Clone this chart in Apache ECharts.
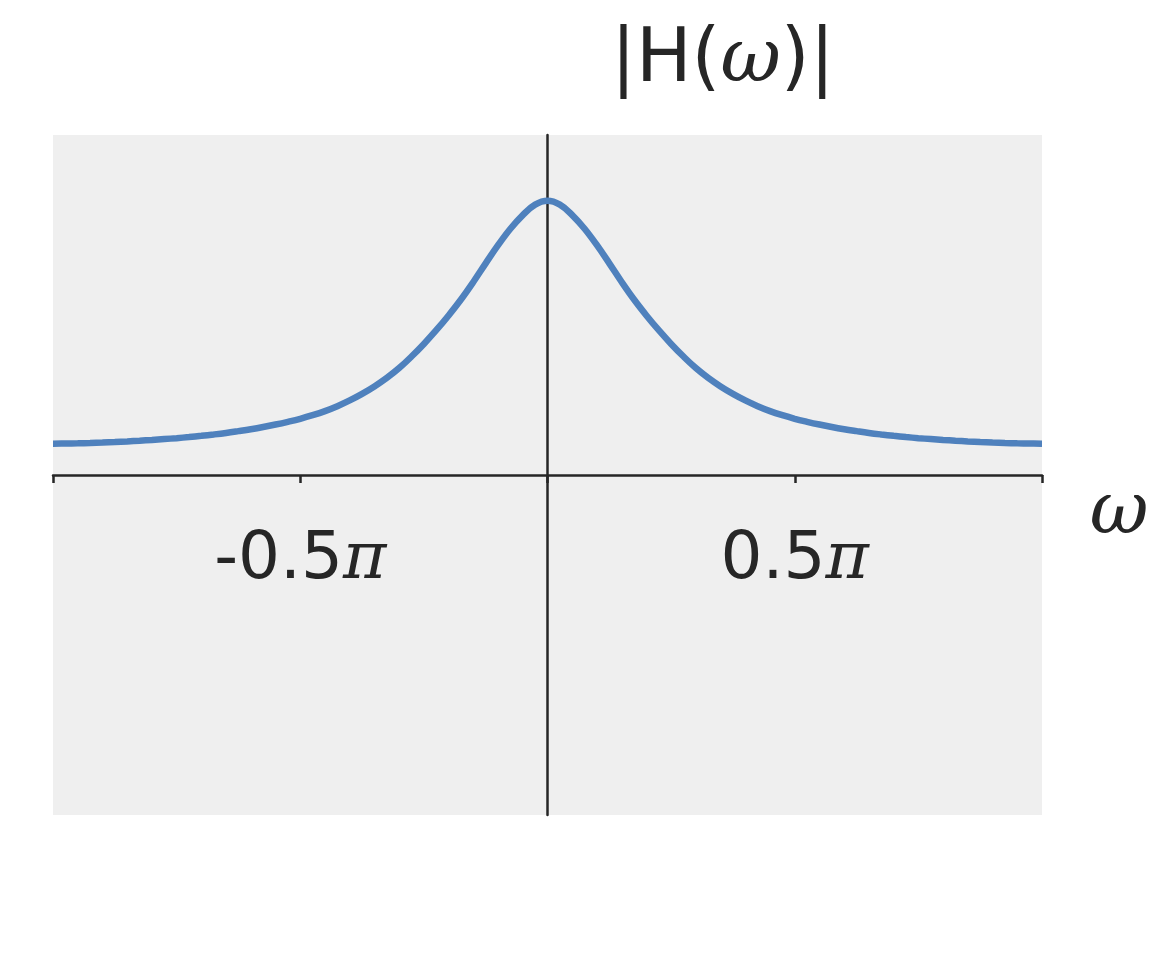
<!DOCTYPE html>
<html>
<head>
<meta charset="utf-8">
<script src="https://cdn.jsdelivr.net/npm/echarts@6/dist/echarts.min.js"></script>
<style>html,body{margin:0;padding:0;background:#fff}#c{width:1152px;height:960px}</style>
</head>
<body>
<div id="c"></div>
<script>
// omega in units of pi
const omegaPi = [-1.0,-0.975,-0.95,-0.925,-0.9,-0.875,-0.85,-0.825,-0.8,-0.775,-0.75,-0.725,-0.7,-0.675,-0.65,-0.625,-0.6,-0.575,-0.55,-0.525,-0.5,-0.475,-0.45,-0.425,-0.4,-0.375,-0.35,-0.325,-0.3,-0.275,-0.25,-0.225,-0.2,-0.175,-0.15,-0.125,-0.1,-0.075,-0.05,-0.025,
  0,0.025,0.05,0.075,0.1,0.125,0.15,0.175,0.2,0.225,0.25,0.275,0.3,0.325,0.35,0.375,0.4,0.425,0.45,0.475,0.5,0.525,0.55,0.575,0.6,0.625,0.65,0.675,0.7,0.725,0.75,0.775,0.8,0.825,0.85,0.875,0.9,0.925,0.95,0.975,1.0];
const magnitude = [0.572,0.574,0.578,0.584,0.592,0.602,0.613,0.625,0.639,0.655,0.672,0.692,0.714,0.739,0.767,0.80,0.835,0.875,0.92,0.97,1.025,1.09,1.165,1.255,1.36,1.48,1.615,1.77,1.95,2.16,2.39,2.64,2.91,3.20,3.52,3.86,4.19,4.49,4.74,4.93,
  5.0,4.93,4.74,4.49,4.19,3.86,3.52,3.20,2.91,2.64,2.39,2.16,1.95,1.77,1.615,1.48,1.36,1.255,1.165,1.09,1.025,0.97,0.92,0.875,0.835,0.80,0.767,0.739,0.714,0.692,0.672,0.655,0.639,0.625,0.613,0.602,0.592,0.584,0.578,0.574,0.572];
const tickLabels = {'-0.5': '-0.5', '0.5': '0.5'};

const textColor = '#262626';
const chart = echarts.init(document.getElementById('c'), null, {renderer: 'canvas'});
chart.setOption({
  animation: false,
  backgroundColor: '#ffffff',
  grid: {left: 53, right: 110, top: 135, bottom: 145, show: true, backgroundColor: '#efefef', borderWidth: 0, outerBoundsMode: 'none', containLabel: false},
  title: {
    text: '{a||H(}{w|ω}{a|)|}',
    left: 606, top: 20,
    textStyle: {
      fontWeight: 'normal',
      rich: {
        a: {fontFamily: 'DejaVu Sans', fontWeight: 'normal', fontSize: 74, color: textColor},
        w: {fontFamily: 'DejaVu Serif', fontStyle: 'italic', fontWeight: 'normal', fontSize: 74, color: textColor}
      }
    }
  },
  graphic: [{
    type: 'text',
    x: 1119, y: 514,
    style: {
      text: 'ω',
      font: 'italic 72px "DejaVu Serif"',
      fill: textColor,
      textAlign: 'center',
      textVerticalAlign: 'middle'
    }
  }],
  xAxis: {
    type: 'value', min: -1, max: 1, interval: 0.5,
    position: 'bottom',
    offset: -340,
    axisLine: {onZero: false, lineStyle: {color: textColor, width: 2.5}},
    axisTick: {show: true, length: 8, lineStyle: {color: textColor, width: 2.5}},
    splitLine: {show: false},
    axisLabel: {
      margin: 53,
      formatter: function (v) {
        const k = String(v);
        return tickLabels[k] !== undefined ? '{n|' + tickLabels[k] + '}{p|π}' : '';
      },
      rich: {
        n: {fontFamily: 'DejaVu Sans', fontSize: 66, color: textColor},
        p: {fontFamily: 'DejaVu Serif', fontStyle: 'italic', fontSize: 66, color: textColor}
      }
    }
  },
  yAxis: {
    type: 'value', min: -6.2, max: 6.2,
    axisLine: {show: true, onZero: true, lineStyle: {color: textColor, width: 2.5}},
    axisTick: {show: false},
    axisLabel: {show: false},
    splitLine: {show: false}
  },
  series: [{
    type: 'line',
    data: omegaPi.map((w, i) => [w, magnitude[i]]),
    smooth: 0.4,
    showSymbol: false,
    lineStyle: {color: '#4f81bd', width: 6.5},
    z: 1
  }]
});
</script>
</body>
</html>
